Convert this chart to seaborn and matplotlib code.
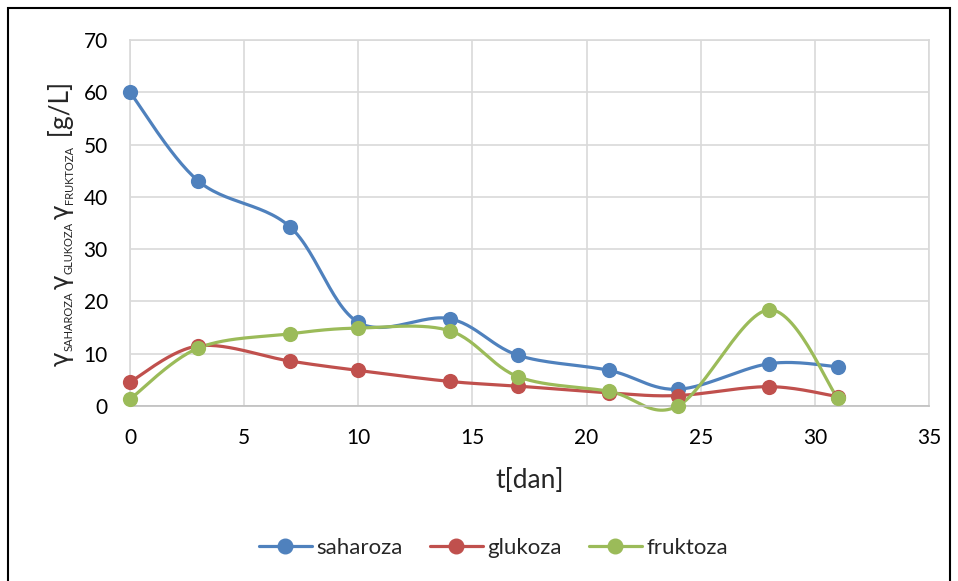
import numpy as np
import pandas as pd
import matplotlib
matplotlib.use("Agg")
import matplotlib.pyplot as plt
import seaborn as sns
from matplotlib.patches import Rectangle
from matplotlib.lines import Line2D

days = [0, 3, 7, 10, 14, 17, 21, 24, 28, 31]
saharoza = [60.0, 43.0, 34.3, 16.0, 16.7, 9.7, 6.8, 3.2, 8.1, 7.5]
glukoza = [4.6, 11.5, 8.6, 6.8, 4.7, 3.8, 2.5, 2.0, 3.7, 1.8]
fruktoza = [1.3, 11.1, 13.8, 14.9, 14.4, 5.6, 2.8, 0.0, 18.4, 1.5]
series_names = ["saharoza", "glukoza", "fruktoza"]
colors = ["#4F81BD", "#C0504D", "#9BBB59"]
x_ticks = [0, 5, 10, 15, 20, 25, 30, 35]
y_ticks = [0, 10, 20, 30, 40, 50, 60, 70]
ylabel_parts = [("γ", "greek"), ("SAHAROZA", "sub"), ("γ", "greek"), ("GLUKOZA", "sub"),
                ("γ", "greek"), ("FRUKTOZA", "sub"), (" [g/L]", "main")]

sns.set_theme(style="white")
FAM = ["Lato", "DejaVu Sans"]
plt.rcParams["font.family"] = FAM


def smooth(x, y, n=30):
    # Excel-like smoothed line: Catmull-Rom style cubic Bezier segments
    x = np.asarray(x, float)
    y = np.asarray(y, float)
    px = np.concatenate([[x[0]], x, [x[-1]]])
    py = np.concatenate([[y[0]], y, [y[-1]]])
    xs, ys = [], []
    t = np.linspace(0, 1, n)
    for i in range(1, len(px) - 2):
        p0 = np.array([px[i], py[i]])
        p3 = np.array([px[i + 1], py[i + 1]])
        p1 = p0 + (np.array([px[i + 1], py[i + 1]]) - np.array([px[i - 1], py[i - 1]])) / 6
        p2 = p3 - (np.array([px[i + 2], py[i + 2]]) - np.array([px[i], py[i]])) / 6
        b = ((1 - t) ** 3)[:, None] * p0 + (3 * (1 - t) ** 2 * t)[:, None] * p1 \
            + (3 * (1 - t) * t ** 2)[:, None] * p2 + (t ** 3)[:, None] * p3
        xs.extend(b[:, 0])
        ys.extend(b[:, 1])
    return np.array(xs), np.array(ys)


W, H = 958, 581
fig = plt.figure(figsize=(W / 100, H / 100), dpi=100)
ax = fig.add_axes([130 / W, 1 - 406 / H, 799 / W, 366 / H])

for name, vals, col in zip(series_names, [saharoza, glukoza, fruktoza], colors):
    sx, sy = smooth(days, vals)
    sns.lineplot(x=sx, y=sy, ax=ax, color=col, linewidth=2.3, sort=False,
                 estimator=None, legend=False)
    ax.lines[-1].set_clip_on(False)
    df = pd.DataFrame({"t": days, "v": vals})
    sns.scatterplot(data=df, x="t", y="v", ax=ax, color=col, s=120,
                    edgecolor=col, linewidth=0, zorder=5, legend=False,
                    clip_on=False)

ax.set_xlim(0, 35)
ax.set_ylim(0, 70)
ax.set_xticks(x_ticks)
ax.set_yticks(y_ticks)
ax.grid(True, color="#D9D9D9", linewidth=1.2)
ax.set_axisbelow(True)
for s in ax.spines.values():
    s.set_color("#D9D9D9")
    s.set_linewidth(1.2)
ax.spines["bottom"].set_color("#BFBFBF")
ax.tick_params(axis="both", labelsize=15, colors="black", length=0)
ax.tick_params(axis="x", pad=16)
ax.tick_params(axis="y", pad=16)
ax.set_xlabel("t[dan]", fontsize=19, labelpad=14)
ax.set_ylabel("")

# y-axis title built from pieces (big gamma, small subscripts), rotated 90 deg
fig.canvas.draw()
renderer = fig.canvas.get_renderer()
x_base = 69 / W
texts = []
for txt, kind in ylabel_parts:
    if kind == "greek":
        size, fam = 18, ["DejaVu Sans"]
    elif kind == "sub":
        size, fam = 8, FAM
    else:
        size, fam = 19, FAM
    t = fig.text(x_base, 0, txt, rotation=90, rotation_mode="anchor",
                 ha="left", va="baseline", fontsize=size, family=fam)
    texts.append((t, kind))
lengths = [t.get_window_extent(renderer).height for t, _ in texts]
gaps = [1 if k == "greek" else 2 for _, k in texts]
total = sum(lengths) + sum(gaps)
center_px = H - (40 + 406) / 2
cur = center_px - total / 2
for (t, kind), L, g in zip(texts, lengths, gaps):
    xoff = 4 / W if kind == "sub" else 0
    t.set_position((x_base + xoff, cur / H))
    cur += L + g

handles = [Line2D([0], [0], color=c, lw=2.3, marker="o", markersize=10.5) for c in colors]
fig.legend(handles, series_names, loc="center", bbox_to_anchor=(0.515, 0.057),
           ncol=3, frameon=False, fontsize=16, handlelength=2.4,
           columnspacing=1.2, handletextpad=0.2)

fig.patches.append(Rectangle((8 / W, -0.02), 942 / W, 1 - 8 / H + 0.02,
                             transform=fig.transFigure, fill=False,
                             edgecolor="black", linewidth=1.5))

fig.savefig("out.png", dpi=100)
